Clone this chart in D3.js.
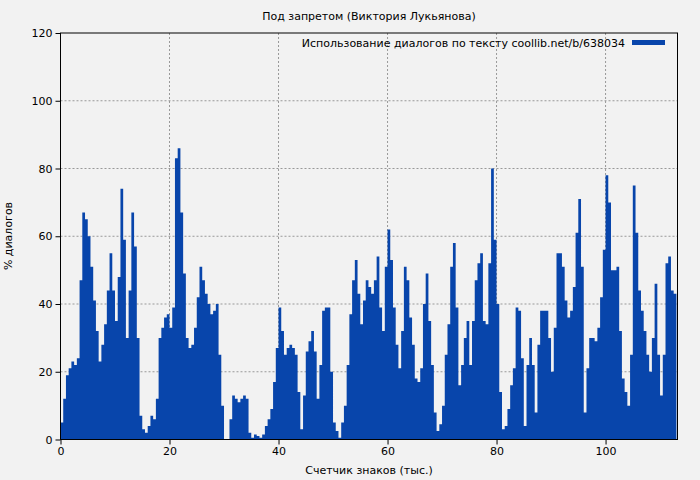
<!DOCTYPE html>
<html><head><meta charset="utf-8">
<script src="https://cdn.jsdelivr.net/npm/d3@7"></script>
<style>body{margin:0;background:#f2f2f2}svg{display:block}text{font-family:"DejaVu Sans",sans-serif}</style>
</head><body><svg id="c" width="700" height="480"></svg>
<script>
const title = "Под запретом (Виктория Лукьянова)";
const xLabel = "Счетчик знаков (тыс.)";
const yLabel = "% диалогов";
const legendLabel = "Использование диалогов по тексту coollib.net/b/638034";
const step = 0.5;
const values = [5,12,19,21,23,22,24,47,67,65,60,51,41,32,23,28,34,44,55,44,35,48,74,59,30,44,67,57,30,7,3,2,4,7,6,12,30,33,36,37,33,39,83,86,67,49,30,27,28,33,42,51,47,43,40,37,38,40,25,10,0,0,6,13,12,11,12,13,12,2,0.5,1.5,1,0.5,1.5,4,6,9,17,27,39,32,25,27,28,27,25,14,3,13,26,29,32,26,12,22,38,39,39,20,5,2.5,0.5,5,10,22,37,47,53,43,34,41,47,45,43,47,54,39,32,51,62,53,39,28,21,32,51,47,36,28,18,17,21,40,49,35,22,8,2.5,4.5,10,25,34,51,58,39,16,22,30,35,22,35,47,52,55,35,34,52,80,59,40,14,3,4,9,16,21,39,38,24,4,22,30,22,8,28,38,38,38,30,20,33,55,55,51,41,36,38,45,61,71,51,8,21,30,30,29,33,42,56,78,70,50,50,51,32,18,14,10,25,75,61,44,38,32,25,20,30,46,25,13,25,52,54,44,43];
const xTicks = [0,20,40,60,80,100];
const yTicks = [0,20,40,60,80,100,120];
const data = values.map((v,i)=>({x:i*step,v}));
data.push({x:values.length*step, v:values[values.length-1]});

const m={l:60.5,r:677.5,t:33,b:439.5};
const svg=d3.select("#c");
svg.append("rect").attr("width",700).attr("height",480).attr("fill","#f2f2f2");
const x=d3.scaleLinear().domain([0,113.2]).range([m.l,m.r]);
const y=d3.scaleLinear().domain([0,120]).range([m.b,m.t]);
const g=svg.append("g");
g.selectAll(".gx").data(xTicks.slice(1)).join("line").attr("x1",d=>x(d)).attr("x2",d=>x(d)).attr("y1",m.t).attr("y2",m.b).attr("stroke","#999").attr("stroke-dasharray","2,2");
g.selectAll(".gy").data(yTicks.slice(1,-1)).join("line").attr("y1",d=>y(d)).attr("y2",d=>y(d)).attr("x1",m.l).attr("x2",m.r).attr("stroke","#999").attr("stroke-dasharray","2,2");
svg.append("path").datum(data).attr("fill","#0845ab")
 .attr("d",d3.area().curve(d3.curveStepAfter).x(d=>x(d.x)).y0(y(0)).y1(d=>y(d.v)));
svg.append("rect").attr("x",m.l).attr("y",m.t).attr("width",m.r-m.l).attr("height",m.b-m.t).attr("fill","none").attr("stroke","#000");
svg.append("g").attr("transform",`translate(0,${m.b})`).call(d3.axisBottom(x).tickValues(xTicks).tickSize(5).tickSizeOuter(0))
 .call(a=>{a.select(".domain").remove();a.selectAll("text").attr("font-size",11).attr("font-family","DejaVu Sans").attr("fill","#000");});
svg.append("g").attr("transform",`translate(${m.l},0)`).call(d3.axisLeft(y).tickValues(yTicks).tickSize(5).tickSizeOuter(0))
 .call(a=>{a.select(".domain").remove();a.selectAll("text").attr("font-size",11).attr("font-family","DejaVu Sans").attr("fill","#000");});
svg.append("text").attr("x",369).attr("y",20).attr("text-anchor","middle").attr("font-size",11).text(title);
svg.append("text").attr("x",369).attr("y",474).attr("text-anchor","middle").attr("font-size",11).text(xLabel);
svg.append("text").attr("transform","translate(12,236) rotate(-90)").attr("text-anchor","middle").attr("font-size",11).text(yLabel);
svg.append("text").attr("x",625).attr("y",47).attr("text-anchor","end").attr("font-size",11).text(legendLabel);
svg.append("rect").attr("x",632).attr("y",40).attr("width",33).attr("height",5).attr("fill","#0845ab");
</script></body></html>
